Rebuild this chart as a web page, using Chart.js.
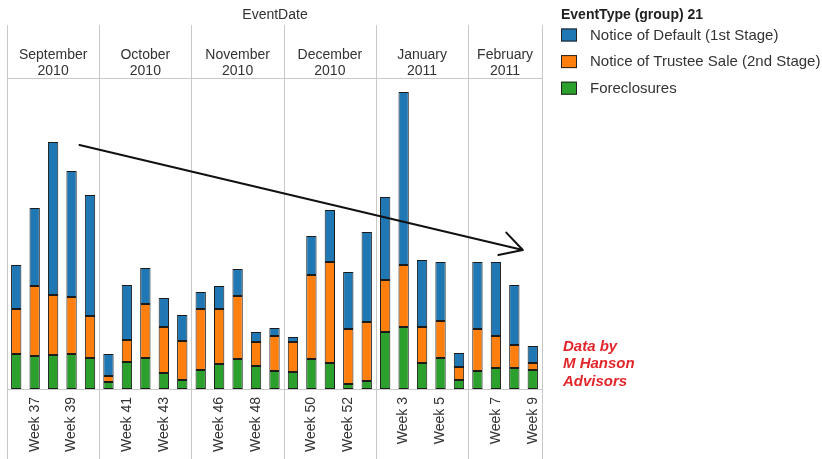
<!DOCTYPE html>
<html>
<head>
<meta charset="utf-8">
<title>EventDate</title>
<script src="https://cdn.jsdelivr.net/npm/chart.js@4.4.1/dist/chart.umd.min.js"></script>
<style>
  body { margin: 0; background: #fff; }
  canvas { display: block; }
</style>
</head>
<body>
<canvas id="myChart" width="822" height="459"></canvas>
<script>
// weekly notices, grouped by month
const weeks = [
  'Week 36', 'Week 37', 'Week 38', 'Week 39', 'Week 40',
  'Week 40', 'Week 41', 'Week 42', 'Week 43', 'Week 44',
  'Week 45', 'Week 46', 'Week 47', 'Week 48', 'Week 49',
  'Week 49', 'Week 50', 'Week 51', 'Week 52', 'Week 53',
  'Week 2', 'Week 3', 'Week 4', 'Week 5', 'Week 6',
  'Week 6', 'Week 7', 'Week 8', 'Week 9'
];
const months = ['September', 'October', 'November', 'December', 'January', 'February'];
const years = ['2010', '2010', '2010', '2010', '2011', '2011'];
const weeksPerMonth = [5, 5, 5, 5, 5, 4];

const noticeOfDefault = [44, 78, 153, 126, 121, 22, 55, 36, 29, 26, 17, 23, 27, 10, 8,
  5, 39, 52, 57, 90, 83, 173, 67, 59, 14, 67, 74, 60, 17];
const trusteeSale = [45, 70, 60, 57, 42, 6, 22, 54, 46, 39, 61, 55, 63, 24, 35,
  30, 84, 101, 55, 59, 52, 62, 36, 37, 13, 42, 32, 23, 7];
const foreclosures = [35, 33, 34, 35, 31, 7, 27, 31, 16, 9, 19, 25, 30, 23, 18,
  17, 30, 26, 5, 8, 57, 62, 26, 31, 9, 18, 21, 21, 19];

// hand drawn trend arrow, in (week index, count)
const arrowFrom = [3.43, 244];
const arrowTo = [27.46, 139];

const FONT = '"Liberation Sans", Arial, sans-serif';
const GRID = '#c9c9c9';
const TEXT = '#333';

// first bar index of every month, plus the end
const monthStarts = [0];
weeksPerMonth.forEach(n => monthStarts.push(monthStarts[monthStarts.length - 1] + n));

const frame = {
  id: 'frame',
  beforeDatasetsDraw(chart) {
    const { ctx, chartArea: a, scales: { x } } = chart;
    ctx.save();
    ctx.strokeStyle = GRID;
    ctx.lineWidth = 1;
    // month dividers run from the header down to the bottom edge
    monthStarts.forEach(s => {
      const px = Math.round(x.getPixelForValue(s - 0.5)) + 0.5;
      ctx.beginPath();
      ctx.moveTo(px, 25);
      ctx.lineTo(px, chart.height);
      ctx.stroke();
    });
    const left = Math.round(x.getPixelForValue(-0.5));
    const right = Math.round(x.getPixelForValue(weeks.length - 0.5)) + 1;
    [a.top, a.bottom].forEach(py => {
      ctx.beginPath();
      ctx.moveTo(left, Math.round(py) + 0.5);
      ctx.lineTo(right, Math.round(py) + 0.5);
      ctx.stroke();
    });

    // header: field name and month names
    ctx.fillStyle = TEXT;
    ctx.textAlign = 'center';
    ctx.textBaseline = 'middle';
    ctx.font = '14px ' + FONT;
    ctx.fillText('EventDate', (left + right) / 2, 15);
    months.forEach((m, i) => {
      const cx = (x.getPixelForValue(monthStarts[i] - 0.5) + x.getPixelForValue(monthStarts[i + 1] - 0.5)) / 2;
      ctx.fillText(m, cx, 55);
      ctx.fillText(years[i], cx, 71.5);
    });

    // legend, top series first
    ctx.textAlign = 'left';
    ctx.font = 'bold 14px ' + FONT;
    ctx.fillStyle = '#222';
    ctx.fillText('EventType (group) 21', 561, 15);
    ctx.font = '15px ' + FONT;
    const items = chart.data.datasets.slice().reverse();
    items.forEach((ds, i) => {
      const cy = 34.5 + i * 26.6;
      ctx.fillStyle = ds.backgroundColor;
      ctx.fillRect(561, cy - 6, 16, 13);
      ctx.strokeStyle = '#222';
      ctx.strokeRect(561.5, cy - 5.5, 15, 12);
      ctx.fillStyle = TEXT;
      ctx.fillText(ds.label, 590, cy + 1);
    });

    // source note
    ctx.fillStyle = '#e3262c';
    ctx.font = 'italic bold 15px ' + FONT;
    ['Data by', 'M Hanson', 'Advisors'].forEach((t, i) => ctx.fillText(t, 563, 346.5 + i * 17.5));
    ctx.restore();
  },
  afterDatasetsDraw(chart) {
    const { ctx, scales: { x, y } } = chart;
    const x0 = x.getPixelForValue(arrowFrom[0]), y0 = y.getPixelForValue(arrowFrom[1]);
    const x1 = x.getPixelForValue(arrowTo[0]), y1 = y.getPixelForValue(arrowTo[1]);
    const back = Math.atan2(y0 - y1, x0 - x1);
    ctx.save();
    ctx.strokeStyle = '#111';
    ctx.lineWidth = 2;
    ctx.lineCap = 'round';
    ctx.beginPath();
    ctx.moveTo(x0, y0);
    ctx.lineTo(x1, y1);
    // two uneven strokes for the head
    [[0.58, 24], [-0.43, 25]].forEach(([ang, len]) => {
      ctx.moveTo(x1, y1);
      ctx.lineTo(x1 + len * Math.cos(back + ang), y1 + len * Math.sin(back + ang));
    });
    ctx.stroke();
    ctx.restore();
  }
};

const data = {
  labels: weeks,
  datasets: [
    { label: 'Foreclosures', data: foreclosures, backgroundColor: '#2ca02c' },
    { label: 'Notice of Trustee Sale (2nd Stage)', data: trusteeSale, backgroundColor: '#ff7f0e' },
    { label: 'Notice of Default (1st Stage)', data: noticeOfDefault, backgroundColor: '#1f77b4' }
  ].map(ds => Object.assign(ds, {
    borderColor: '#1b1b1b',
    borderWidth: 1,
    borderSkipped: false,
    barPercentage: 0.56,
    categoryPercentage: 1
  }))
};

const config = {
  type: 'bar',
  data: data,
  options: {
    responsive: false,
    animation: false,
    layout: { padding: { left: 7, right: 280, top: 78, bottom: 0 } },
    plugins: { legend: { display: false }, tooltip: { enabled: false } },
    scales: {
      x: {
        stacked: true,
        grid: { display: false, drawTicks: false },
        border: { display: false },
        afterFit: s => { s.height = 70; },
        ticks: {
          autoSkip: false,
          minRotation: 90,
          maxRotation: 90,
          padding: 8,
          color: TEXT,
          font: { family: FONT, size: 14 },
          // only the 2nd and 4th week of each month gets a label
          callback: (v, i) => {
            let m = 0;
            while (monthStarts[m + 1] <= i) m++;
            const pos = i - monthStarts[m];
            return pos === 1 || pos === 3 ? weeks[i] : '';
          }
        }
      },
      y: { stacked: true, display: false, min: 0, max: 311 }
    }
  },
  plugins: [frame]
};

const myChart = new Chart(document.getElementById('myChart'), config);
</script>
</body>
</html>
